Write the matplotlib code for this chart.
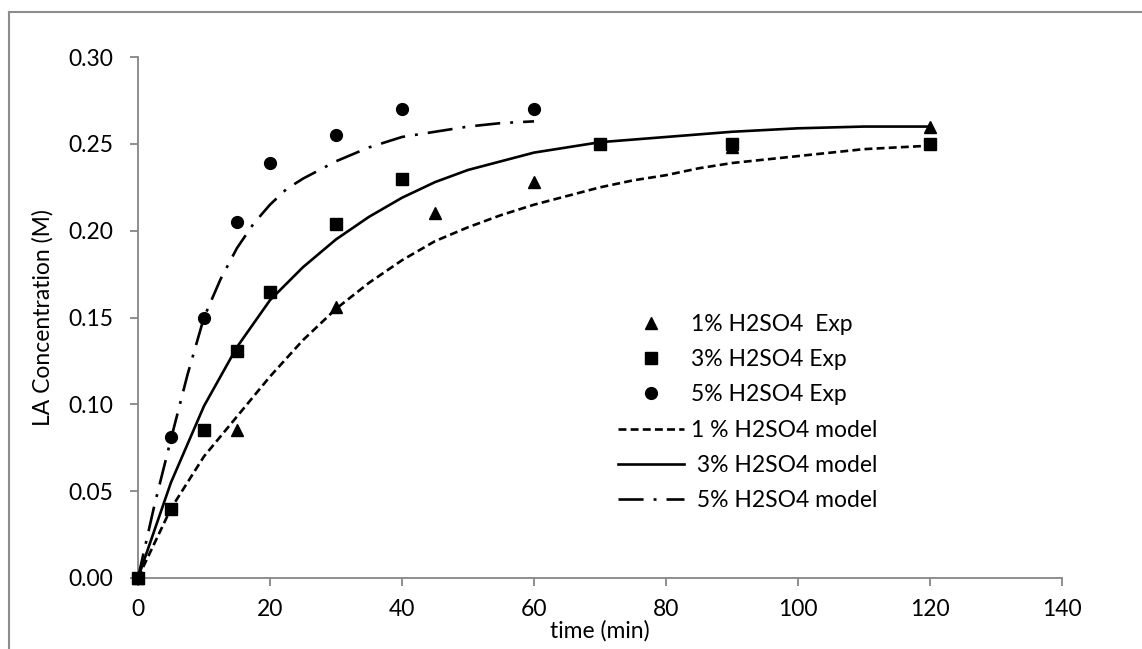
import matplotlib
matplotlib.use("Agg")
import matplotlib.pyplot as plt
from matplotlib.lines import Line2D

plt.rcParams['font.family'] = ['Lato', 'DejaVu Sans']

# experimental points
t_1 = [0, 15, 30, 45, 60, 90, 120]
c_1 = [0.0, 0.085, 0.156, 0.210, 0.228, 0.248, 0.260]

t_3 = [0, 5, 10, 15, 20, 30, 40, 70, 90, 120]
c_3 = [0.0, 0.040, 0.085, 0.131, 0.165, 0.204, 0.230, 0.250, 0.250, 0.250]

t_5 = [0, 5, 10, 15, 20, 30, 40, 60]
c_5 = [0.0, 0.081, 0.150, 0.205, 0.239, 0.255, 0.270, 0.270]

# model curves
tm_1 = [0, 5, 10, 15, 20, 25, 30, 35, 40, 45, 50, 55, 60, 65, 70, 75, 80,
        85, 90, 95, 100, 105, 110, 115, 120]
cm_1 = [0.0, 0.040, 0.070, 0.093, 0.116, 0.137, 0.155, 0.170, 0.183, 0.194,
        0.202, 0.209, 0.215, 0.220, 0.225, 0.229, 0.232, 0.236, 0.239, 0.241,
        0.243, 0.245, 0.247, 0.248, 0.249]

tm_3 = [0, 5, 10, 15, 20, 25, 30, 35, 40, 45, 50, 55, 60, 65, 70, 80, 90,
        100, 110, 120]
cm_3 = [0.0, 0.055, 0.099, 0.133, 0.160, 0.179, 0.195, 0.208, 0.219, 0.228,
        0.235, 0.240, 0.245, 0.248, 0.251, 0.254, 0.257, 0.259, 0.260, 0.260]

tm_5 = [0, 2.5, 5, 7.5, 10, 12.5, 15, 17.5, 20, 22.5, 25, 30, 35, 40, 45, 50,
        55, 60]
cm_5 = [0.0, 0.042, 0.080, 0.117, 0.150, 0.172, 0.190, 0.204, 0.215, 0.224,
        0.230, 0.240, 0.248, 0.254, 0.257, 0.260, 0.262, 0.263]

fig = plt.figure(figsize=(11.42, 6.49), dpi=100)
ax = fig.add_axes([0.1208, 0.1094, 0.8092, 0.8026])

fs = 16.5
ms = 8.5
ax.plot(t_1, c_1, linestyle='none', marker='^', ms=ms, color='black',
        label='1% H2SO4  Exp', clip_on=False, zorder=3)
ax.plot(t_3, c_3, linestyle='none', marker='s', ms=ms, color='black',
        label='3% H2SO4 Exp', clip_on=False, zorder=3)
ax.plot(t_5, c_5, linestyle='none', marker='o', ms=ms, color='black',
        label='5% H2SO4 Exp', clip_on=False, zorder=3)

lw = 1.9
ax.plot(tm_1, cm_1, color='black', lw=lw, linestyle=(0, (3.0, 1.6)),
        label='1 % H2SO4 model', zorder=4)
ax.plot(tm_3, cm_3, color='black', lw=lw, linestyle='-',
        label=' 3% H2SO4 model', zorder=4)
ax.plot(tm_5, cm_5, color='black', lw=lw, linestyle=(0, (9.5, 3.8, 1.1, 3.8)),
        label=' 5% H2SO4 model', zorder=4)

ax.set_xlim(0, 140)
ax.set_ylim(0, 0.30)
ax.set_xticks(range(0, 141, 20))
ax.set_yticks([0.0, 0.05, 0.10, 0.15, 0.20, 0.25, 0.30])
ax.set_yticklabels(['%.2f' % v for v in ax.get_yticks()])

for s in ['top', 'right']:
    ax.spines[s].set_visible(False)
for s in ['left', 'bottom']:
    ax.spines[s].set_color('#868686')
    ax.spines[s].set_linewidth(1.3)
ax.tick_params(axis='both', direction='out', length=6, width=1.3,
               color='#868686', labelsize=fs, labelcolor='black')
ax.tick_params(axis='x', pad=9)
ax.tick_params(axis='y', pad=12)

ax.set_xlabel('time (min)', fontsize=fs, labelpad=0)
ax.set_ylabel('LA Concentration (M)', fontsize=fs, labelpad=10)

ax.legend(loc='upper left', bbox_to_anchor=(618 / 1142, 1 - 314 / 649),
          bbox_transform=fig.transFigure, frameon=False, fontsize=fs,
          handlelength=2.9, handletextpad=0.3, labelspacing=0.62,
          numpoints=1, borderpad=0, borderaxespad=0)

# chart area border
border = '#8c8c8c'
fig.add_artist(Line2D([9 / 1142, 9 / 1142], [1 - 12 / 649, 0],
                      transform=fig.transFigure, color=border, lw=1.5))
fig.add_artist(Line2D([9 / 1142, 1], [1 - 12 / 649, 1 - 12 / 649],
                      transform=fig.transFigure, color=border, lw=1.5))

fig.savefig('out.png', dpi=100)
